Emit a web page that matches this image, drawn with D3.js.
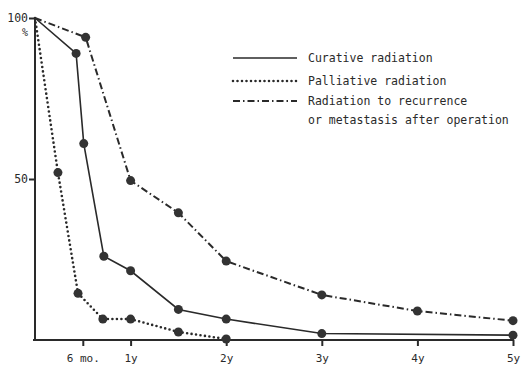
<!DOCTYPE html>
<html>
<head>
<meta charset="utf-8">
<script src="https://cdn.jsdelivr.net/npm/d3@7"></script>
<style>
  body { margin: 0; background: #fff; }
  svg { display: block; }
  text { font-family: "DejaVu Sans Mono", "Liberation Mono", monospace; fill: #2a2a2a; }
</style>
</head>
<body>
<div id="chart"></div>
<script>
    const width = 522
    const height = 370

    // time in years, survival in %
    const curativeTime = [0, 0.43, 0.51, 0.72, 1, 1.5, 2, 3, 5]
    const curativeValue = [100, 89, 61, 26, 21.5, 9.5, 6.5, 2, 1.5]
    const palliativeTime = [0, 0.24, 0.45, 0.71, 1, 1.5, 2]
    const palliativeValue = [100, 52, 14.5, 6.5, 6.5, 2.5, 0.3]
    const recurrenceTime = [0, 0.53, 1, 1.5, 2, 3, 4, 5]
    const recurrenceValue = [100, 94, 49.5, 39.5, 24.5, 14, 9, 6]

    const xTicks = [0.5, 1, 2, 3, 4, 5]
    const xTickLabels = ['6 mo.', '1y', '2y', '3y', '4y', '5y']
    const yTicks = [50, 100]
    const legendLabels = [['Curative radiation'], ['Palliative radiation'],
      ['Radiation to recurrence', 'or metastasis after operation']]

    const series = [
      { time: curativeTime, value: curativeValue, dash: null, width: 1.6 },
      { time: palliativeTime, value: palliativeValue, dash: '0 4.5', width: 2.6 },
      { time: recurrenceTime, value: recurrenceValue, dash: '7 3 1.5 3', width: 2 }
    ]

    const x = d3.scaleLinear().domain([0, 5]).range([35, 513])
    const y = d3.scaleLinear().domain([0, 100]).range([340, 18])

    const svg = d3.select('#chart')
      .append('svg')
      .attr('width', width)
      .attr('height', height)

    const ink = '#2a2a2a'

    // x axis
    const xAxis = d3.axisBottom(x)
      .tickValues(xTicks)
      .tickFormat((d, i) => xTickLabels[i])
      .tickSizeOuter(0)
      .tickSize(6)
    const gx = svg.append('g')
      .attr('transform', `translate(0, ${y(0)})`)
      .call(xAxis)
    gx.select('.domain').attr('d', `M${x(0) - 2},0H${x(5) + 1}`)
    gx.selectAll('line, path').attr('stroke', ink).attr('stroke-width', 2)
    gx.selectAll('text').attr('dy', '1.2em').style('font-size', '11px').attr('fill', ink)

    // y axis
    const yAxis = d3.axisLeft(y)
      .tickValues(yTicks)
      .tickSizeOuter(0)
      .tickSize(6)
    const gy = svg.append('g')
      .attr('transform', `translate(${x(0)}, 0)`)
      .call(yAxis)
    gy.select('.domain').attr('d', `M0,${y(100)}V${y(0) + 1}`)
    gy.selectAll('line, path').attr('stroke', ink).attr('stroke-width', 2)
    gy.selectAll('text').attr('x', -7).style('font-size', '11.5px').attr('fill', ink)
    svg.append('text')
      .attr('x', 25)
      .attr('y', y(100) + 18)
      .attr('text-anchor', 'middle')
      .style('font-size', '10px')
      .text('%')

    const line = d3.line()
      .x(d => x(d[0]))
      .y(d => y(d[1]))

    series.forEach(s => {
      const pts = s.time.map((t, i) => [t, s.value[i]])
      svg.append('path')
        .datum(pts)
        .attr('d', line)
        .attr('fill', 'none')
        .attr('stroke', ink)
        .attr('stroke-width', s.width)
        .attr('stroke-linecap', s.dash === '0 4.5' ? 'round' : 'butt')
        .attr('stroke-dasharray', s.dash)
      svg.append('g')
        .selectAll('circle')
        .data(pts.slice(1))
        .enter().append('circle')
        .attr('cx', d => x(d[0]))
        .attr('cy', d => y(d[1]))
        .attr('r', 4.5)
        .attr('fill', '#333')
    })

    // legend
    const legend = svg.append('g')
    const rowY = [58, 81, 101]
    series.forEach((s, i) => {
      legend.append('line')
        .attr('x1', 233).attr('x2', 297)
        .attr('y1', rowY[i]).attr('y2', rowY[i])
        .attr('stroke', ink)
        .attr('stroke-width', s.width)
        .attr('stroke-linecap', s.dash === '0 4.5' ? 'round' : 'butt')
        .attr('stroke-dasharray', s.dash)
      legendLabels[i].forEach((t, j) => {
        legend.append('text')
          .attr('x', 308)
          .attr('y', rowY[i] + j * 19)
          .attr('dy', '0.35em')
          .style('font-size', '11.5px')
          .text(t)
      })
    })
</script>
</body>
</html>
